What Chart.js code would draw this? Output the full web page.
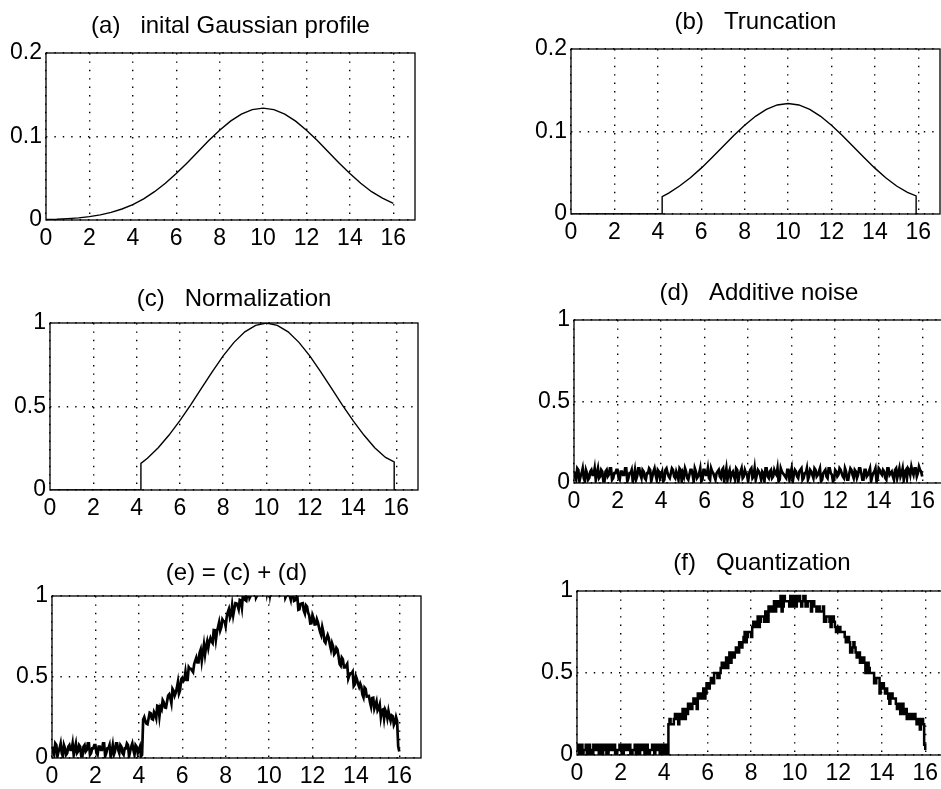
<!DOCTYPE html>
<html>
<head>
<meta charset="utf-8">
<script src="https://cdn.jsdelivr.net/npm/chart.js@4/dist/chart.umd.min.js"></script>
<style>
  html, body { margin: 0; padding: 0; background: #fff; width: 941px; height: 789px; overflow: hidden; }
  .panel { position: absolute; }
</style>
</head>
<body>
<div class="panel" id="pa"><canvas></canvas></div>
<div class="panel" id="pb"><canvas></canvas></div>
<div class="panel" id="pc"><canvas></canvas></div>
<div class="panel" id="pd"><canvas></canvas></div>
<div class="panel" id="pe"><canvas></canvas></div>
<div class="panel" id="pf"><canvas></canvas></div>
<script>
// ---- axis ticks ----
const xTickValues = [0, 2, 4, 6, 8, 10, 12, 14, 16];
const yTicksSmall = [0, 0.1, 0.2];
const yLabelsSmall = ['0', '0.1', '0.2'];
const yTicksUnit = [0, 0.5, 1];
const yLabelsUnit = ['0', '0.5', '1'];

// ---- (a) initial Gaussian profile, sampled every 0.5 ----
const gaussX = [0, 0.5, 1, 1.5, 2, 2.5, 3, 3.5, 4, 4.5, 5, 5.5, 6, 6.5, 7, 7.5, 8,
                8.5, 9, 9.5, 10, 10.5, 11, 11.5, 12, 12.5, 13, 13.5, 14, 14.5, 15, 15.5, 16];
const gaussY = [0.0006, 0.0009, 0.0016, 0.0025, 0.0040, 0.0061, 0.0091, 0.0132, 0.0185,
                0.0254, 0.0339, 0.0440, 0.0556, 0.0684, 0.0817, 0.0951, 0.1076, 0.1184,
                0.1268, 0.1322, 0.1340, 0.1322, 0.1268, 0.1184, 0.1076, 0.0951, 0.0817,
                0.0684, 0.0556, 0.0440, 0.0339, 0.0262, 0.0200];

// ---- (b) truncated profile and (c) its normalized form ----
const truncX = [0, 4.2, 4.2, 4.5, 5, 5.5, 6, 6.5, 7, 7.5, 8, 8.5, 9, 9.5, 10, 10.5,
                11, 11.5, 12, 12.5, 13, 13.5, 14, 14.5, 15, 15.5, 15.9, 15.9, 16];
const truncY = [0, 0, 0.0210, 0.0254, 0.0339, 0.0440, 0.0556, 0.0684, 0.0817, 0.0951,
                0.1076, 0.1184, 0.1268, 0.1322, 0.1340, 0.1322, 0.1268, 0.1184, 0.1076,
                0.0951, 0.0817, 0.0684, 0.0556, 0.0440, 0.0339, 0.0262, 0.0220, 0, 0];
const normY = [0, 0, 0.159, 0.190, 0.253, 0.329, 0.415, 0.510, 0.610, 0.709, 0.803,
               0.884, 0.947, 0.986, 1.000, 0.986, 0.947, 0.884, 0.803, 0.709, 0.610,
               0.510, 0.415, 0.329, 0.253, 0.195, 0.168, 0, 0];

// ---- (d), (e), (f): fine grid from 0 to 16 in steps of 0.05 ----
const fineX = Array.from({ length: 321 }, (_, i) => i / 20);

// (d) additive noise
const noiseY = [
  0.07, 0.04, 0.02, 0.09, 0.08, 0.01, 0.04, 0.06, 0.09, 0.03, 0.01, 0.08, 0.06, 0.02, 0.03, 0.07, 0.08, 0.05, 0.05, 0.09,
  0.02, 0.06, 0.09, 0.03, 0.04, 0.08, 0.07, 0.01, 0.01, 0.07, 0.08, 0.04, 0.05, 0.09, 0.09, 0.02, 0.03, 0.06, 0.06, 0.08,
  0.08, 0.03, 0.02, 0.07, 0.07, 0.05, 0.05, 0.09, 0.09, 0.01, 0.03, 0.06, 0.06, 0.08, 0.01, 0.04, 0.08, 0.02, 0.04, 0.09,
  0.09, 0.05, 0.03, 0.08, 0.07, 0.03, 0.02, 0.06, 0.06, 0.09, 0.08, 0.01, 0.04, 0.07, 0.09, 0.05, 0.02, 0.08, 0.07, 0.03,
  0.05, 0.07, 0.01, 0.02, 0.08, 0.09, 0.06, 0.04, 0.03, 0.06, 0.09, 0.08, 0.04, 0.03, 0.07, 0.05, 0.02, 0.09, 0.08, 0.01,
  0.06, 0.04, 0.09, 0.07, 0.03, 0.02, 0.05, 0.08, 0.08, 0.05, 0.01, 0.09, 0.07, 0.03, 0.04, 0.06, 0.09, 0.01, 0.02, 0.08,
  0.08, 0.05, 0.05, 0.09, 0.03, 0.02, 0.09, 0.07, 0.06, 0.04, 0.02, 0.06, 0.07, 0.08, 0.04, 0.03, 0.08, 0.09, 0.01, 0.05,
  0.09, 0.02, 0.06, 0.08, 0.03, 0.06, 0.07, 0.04, 0.02, 0.09, 0.08, 0.01, 0.05, 0.07, 0.09, 0.03, 0.04, 0.08, 0.06, 0.05,
  0.01, 0.06, 0.08, 0.09, 0.03, 0.04, 0.09, 0.02, 0.05, 0.08, 0.07, 0.05, 0.02, 0.07, 0.06, 0.01, 0.09, 0.09, 0.04, 0.03,
  0.07, 0.08, 0.03, 0.04, 0.08, 0.06, 0.05, 0.09, 0.01, 0.02, 0.09, 0.07, 0.06, 0.05, 0.04, 0.03, 0.08, 0.08, 0.02, 0.06,
  0.09, 0.01, 0.05, 0.08, 0.07, 0.04, 0.03, 0.07, 0.08, 0.09, 0.02, 0.03, 0.06, 0.06, 0.09, 0.02, 0.04, 0.08, 0.07, 0.05,
  0.03, 0.09, 0.08, 0.04, 0.05, 0.07, 0.09, 0.01, 0.02, 0.06, 0.07, 0.08, 0.04, 0.03, 0.09, 0.09, 0.06, 0.05, 0.01, 0.02,
  0.08, 0.07, 0.04, 0.05, 0.09, 0.08, 0.06, 0.04, 0.03, 0.09, 0.07, 0.02, 0.02, 0.06, 0.09, 0.08, 0.05, 0.03, 0.08, 0.07,
  0.03, 0.05, 0.09, 0.09, 0.06, 0.02, 0.02, 0.08, 0.08, 0.04, 0.05, 0.07, 0.09, 0.01, 0.04, 0.06, 0.07, 0.09, 0.01, 0.03,
  0.09, 0.08, 0.06, 0.05, 0.08, 0.07, 0.03, 0.02, 0.09, 0.09, 0.05, 0.06, 0.07, 0.04, 0.02, 0.08, 0.09, 0.03, 0.06, 0.09,
  0.04, 0.06, 0.09, 0.02, 0.07, 0.08, 0.03, 0.09, 0.08, 0.05, 0.10, 0.07, 0.05, 0.09, 0.09, 0.04, 0.06, 0.10, 0.08, 0.07,
  0.04
];

// (e) normalized profile with the noise added
const noisyY = [
  0.07, 0.04, 0.02, 0.09, 0.08, 0.01, 0.04, 0.06, 0.09, 0.03, 0.01, 0.08, 0.06, 0.02, 0.03, 0.07, 0.08, 0.05, 0.05, 0.09,
  0.02, 0.06, 0.09, 0.03, 0.04, 0.08, 0.07, 0.01, 0.01, 0.07, 0.08, 0.04, 0.05, 0.09, 0.09, 0.02, 0.03, 0.06, 0.06, 0.08,
  0.08, 0.03, 0.02, 0.07, 0.07, 0.05, 0.05, 0.09, 0.09, 0.01, 0.03, 0.06, 0.06, 0.08, 0.01, 0.04, 0.08, 0.02, 0.04, 0.09,
  0.09, 0.05, 0.03, 0.08, 0.07, 0.03, 0.02, 0.06, 0.06, 0.09, 0.08, 0.01, 0.04, 0.07, 0.09, 0.05, 0.02, 0.08, 0.07, 0.03,
  0.05, 0.07, 0.01, 0.02, 0.238, 0.253, 0.228, 0.213, 0.209, 0.244, 0.280, 0.276, 0.242, 0.238, 0.284, 0.270, 0.246, 0.323, 0.320, 0.256,
  0.313, 0.300, 0.357, 0.345, 0.312, 0.310, 0.347, 0.385, 0.393, 0.371, 0.339, 0.427, 0.415, 0.384, 0.402, 0.431, 0.469, 0.398, 0.417, 0.486,
  0.495, 0.474, 0.484, 0.533, 0.482, 0.482, 0.561, 0.551, 0.551, 0.540, 0.530, 0.580, 0.600, 0.620, 0.590, 0.590, 0.650, 0.670, 0.600, 0.650,
  0.700, 0.640, 0.690, 0.720, 0.680, 0.720, 0.740, 0.720, 0.710, 0.790, 0.789, 0.729, 0.779, 0.808, 0.838, 0.787, 0.807, 0.856, 0.845, 0.844,
  0.813, 0.871, 0.900, 0.919, 0.867, 0.885, 0.943, 0.881, 0.919, 0.956, 0.954, 0.941, 0.918, 0.975, 0.971, 0.928, 1.014, 1.020, 0.976, 0.971,
  1.017, 1.032, 0.987, 1.001, 1.045, 1.029, 1.023, 1.067, 0.990, 1.003, 1.076, 1.059, 1.051, 1.043, 1.035, 1.026, 1.078, 1.079, 1.020, 1.060,
  1.090, 1.010, 1.050, 1.079, 1.068, 1.036, 1.025, 1.063, 1.071, 1.079, 1.006, 1.013, 1.040, 1.037, 1.063, 0.989, 1.005, 1.041, 1.027, 1.002,
  0.977, 1.031, 1.016, 0.970, 0.974, 0.988, 1.001, 0.915, 0.918, 0.951, 0.954, 0.956, 0.909, 0.891, 0.943, 0.935, 0.897, 0.879, 0.830, 0.831,
  0.883, 0.864, 0.825, 0.826, 0.857, 0.837, 0.808, 0.778, 0.759, 0.809, 0.779, 0.720, 0.710, 0.740, 0.760, 0.740, 0.700, 0.670, 0.710, 0.690,
  0.640, 0.650, 0.680, 0.670, 0.630, 0.580, 0.570, 0.620, 0.610, 0.560, 0.560, 0.570, 0.581, 0.491, 0.511, 0.522, 0.522, 0.533, 0.444, 0.454,
  0.505, 0.486, 0.457, 0.438, 0.459, 0.441, 0.392, 0.374, 0.435, 0.427, 0.379, 0.381, 0.383, 0.345, 0.317, 0.370, 0.372, 0.305, 0.327, 0.350,
  0.293, 0.306, 0.330, 0.253, 0.296, 0.300, 0.244, 0.298, 0.282, 0.246, 0.290, 0.254, 0.229, 0.263, 0.258, 0.203, 0.218, 0.253, 0.228, 0.07,
  0.04
];

// (f) quantized signal, levels in steps of 1/32
const quantY = [
  0.063, 0.031, 0, 0.063, 0.063, 0, 0.031, 0.031, 0.063, 0, 0, 0.063, 0.031, 0, 0, 0.063, 0.063, 0.031, 0.031, 0.063,
  0, 0.031, 0.063, 0, 0.031, 0.063, 0.063, 0, 0, 0.063, 0.063, 0.031, 0.031, 0.063, 0.063, 0, 0, 0.031, 0.031, 0.063,
  0.063, 0, 0, 0.063, 0.063, 0.031, 0.031, 0.063, 0.063, 0, 0, 0.031, 0.031, 0.063, 0, 0.031, 0.063, 0, 0.031, 0.063,
  0.063, 0.031, 0, 0.063, 0.063, 0, 0, 0.031, 0.031, 0.063, 0.063, 0, 0.031, 0.063, 0.063, 0.031, 0, 0.063, 0.063, 0,
  0.031, 0.063, 0, 0, 0.188, 0.219, 0.188, 0.188, 0.188, 0.219, 0.250, 0.250, 0.219, 0.188, 0.250, 0.219, 0.219, 0.281, 0.281, 0.219,
  0.281, 0.250, 0.313, 0.313, 0.281, 0.281, 0.313, 0.344, 0.344, 0.313, 0.281, 0.375, 0.375, 0.344, 0.344, 0.375, 0.406, 0.344, 0.375, 0.438,
  0.438, 0.406, 0.438, 0.469, 0.438, 0.438, 0.500, 0.500, 0.500, 0.469, 0.469, 0.500, 0.531, 0.563, 0.531, 0.531, 0.563, 0.594, 0.531, 0.563,
  0.625, 0.563, 0.625, 0.625, 0.594, 0.625, 0.656, 0.625, 0.625, 0.688, 0.688, 0.656, 0.688, 0.719, 0.750, 0.688, 0.719, 0.750, 0.750, 0.750,
  0.719, 0.781, 0.813, 0.813, 0.781, 0.781, 0.844, 0.781, 0.813, 0.844, 0.844, 0.844, 0.813, 0.875, 0.875, 0.813, 0.906, 0.906, 0.875, 0.875,
  0.906, 0.938, 0.875, 0.906, 0.938, 0.906, 0.906, 0.969, 0.875, 0.906, 0.969, 0.938, 0.938, 0.938, 0.938, 0.906, 0.969, 0.969, 0.906, 0.938,
  0.969, 0.906, 0.938, 0.969, 0.969, 0.938, 0.906, 0.938, 0.969, 0.969, 0.906, 0.906, 0.938, 0.938, 0.938, 0.875, 0.906, 0.938, 0.906, 0.906,
  0.875, 0.906, 0.906, 0.875, 0.875, 0.875, 0.906, 0.813, 0.813, 0.844, 0.844, 0.844, 0.813, 0.781, 0.844, 0.844, 0.813, 0.781, 0.750, 0.750,
  0.781, 0.781, 0.750, 0.750, 0.750, 0.750, 0.719, 0.688, 0.688, 0.719, 0.688, 0.625, 0.625, 0.656, 0.688, 0.656, 0.625, 0.594, 0.625, 0.625,
  0.563, 0.563, 0.594, 0.594, 0.563, 0.500, 0.500, 0.563, 0.531, 0.500, 0.500, 0.500, 0.500, 0.438, 0.438, 0.469, 0.469, 0.469, 0.375, 0.406,
  0.438, 0.438, 0.406, 0.375, 0.406, 0.375, 0.344, 0.313, 0.375, 0.375, 0.344, 0.344, 0.344, 0.313, 0.281, 0.313, 0.313, 0.250, 0.281, 0.313,
  0.250, 0.250, 0.281, 0.219, 0.250, 0.250, 0.219, 0.250, 0.250, 0.219, 0.250, 0.219, 0.188, 0.219, 0.219, 0.156, 0.188, 0.219, 0.188, 0.063,
  0.031
];

// ---- drawing ----
const FONT = '"Liberation Sans", Arial, Helvetica, sans-serif';
const Y_AXIS_W = 60, X_AXIS_H = 45, TOP_PAD = 45, RIGHT_PAD = 10;

// frame around the plot area plus the panel heading above it
const panelFrame = {
  id: 'panelFrame',
  afterDraw(chart, args, opts) {
    const { ctx, chartArea: a } = chart;
    ctx.save();
    ctx.strokeStyle = '#000';
    ctx.lineWidth = 1.3;
    ctx.strokeRect(a.left, a.top, a.right - a.left, a.bottom - a.top);
    ctx.fillStyle = '#000';
    ctx.font = '24px ' + FONT;
    ctx.textAlign = 'center';
    ctx.textBaseline = 'middle';
    ctx.fillText(opts.text, (a.left + a.right) / 2, a.top - opts.gap);
    ctx.restore();
  }
};

function toPoints(xs, ys) {
  return xs.map((x, i) => ({ x: x, y: ys[i] }));
}

function makePanel(id, box, title, titleGap, xs, ys, yMax, yTicks, yLabels, lineOpts) {
  const el = document.getElementById(id);
  const w = (box.R - box.L) + Y_AXIS_W + RIGHT_PAD;
  const h = (box.B - box.T) + TOP_PAD + X_AXIS_H;
  el.style.left = (box.L - Y_AXIS_W) + 'px';
  el.style.top = (box.T - TOP_PAD) + 'px';
  const canvas = el.querySelector('canvas');
  canvas.width = w; canvas.height = h;
  canvas.style.width = w + 'px'; canvas.style.height = h + 'px';

  new Chart(canvas, {
    type: 'line',
    data: {
      datasets: [Object.assign({
        data: toPoints(xs, ys),
        borderColor: '#000',
        borderWidth: 1.4,
        pointRadius: 0,
        tension: 0,
        fill: false
      }, lineOpts || {})]
    },
    options: {
      responsive: false,
      animation: false,
      events: [],
      layout: { padding: { top: TOP_PAD, right: RIGHT_PAD, left: 0, bottom: 0 } },
      plugins: {
        legend: { display: false },
        tooltip: { enabled: false },
        title: { display: false },
        panelFrame: { text: title, gap: titleGap }
      },
      scales: {
        x: {
          type: 'linear',
          min: 0, max: 17,
          afterBuildTicks: s => { s.ticks = xTickValues.map(v => ({ value: v })); },
          afterFit: s => { s.height = X_AXIS_H; },
          grid: { color: '#000', lineWidth: 1.4, drawTicks: false },
          border: { display: false, dash: [1.4, 7] },
          ticks: {
            autoSkip: false, maxRotation: 0, padding: 5,
            color: '#000', font: { family: FONT, size: 23 },
            callback: v => String(v)
          }
        },
        y: {
          type: 'linear',
          min: 0, max: yMax,
          afterBuildTicks: s => { s.ticks = yTicks.map(v => ({ value: v })); },
          afterFit: s => { s.width = Y_AXIS_W; },
          grid: { color: '#000', lineWidth: 1.4, drawTicks: false },
          border: { display: false, dash: [1.4, 7] },
          ticks: {
            padding: 4,
            color: '#000', font: { family: FONT, size: 23 },
            callback: (v, i) => yLabels[i]
          }
        }
      }
    },
    plugins: [panelFrame]
  });
}

makePanel('pa', { L: 46, T: 53, R: 415, B: 220 }, '(a)   inital Gaussian profile', 27,
          gaussX, gaussY, 0.2, yTicksSmall, yLabelsSmall);
makePanel('pb', { L: 571, T: 49, R: 940, B: 214 }, '(b)   Truncation', 27,
          truncX, truncY, 0.2, yTicksSmall, yLabelsSmall);
makePanel('pc', { L: 50, T: 323, R: 418, B: 490 }, '(c)   Normalization', 24,
          truncX, normY, 1, yTicksUnit, yLabelsUnit);
makePanel('pd', { L: 574, T: 320, R: 944, B: 483 }, '(d)   Additive noise', 27,
          fineX, noiseY, 1, yTicksUnit, yLabelsUnit, { borderWidth: 2.7 });
makePanel('pe', { L: 52, T: 596, R: 421, B: 758 }, '(e) = (c) + (d)', 23,
          fineX, noisyY, 1, yTicksUnit, yLabelsUnit, { borderWidth: 2.7 });
makePanel('pf', { L: 577, T: 591, R: 947, B: 755 }, '(f)   Quantization', 28,
          fineX, quantY, 1, yTicksUnit, yLabelsUnit, { borderWidth: 2.5, stepped: true });
</script>
</body>
</html>
